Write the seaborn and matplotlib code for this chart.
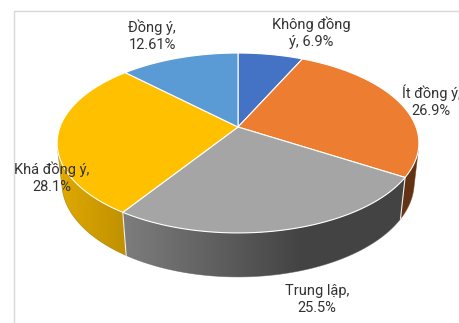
import numpy as np
import matplotlib
matplotlib.use("Agg")
import matplotlib.pyplot as plt
from matplotlib.path import Path
from matplotlib.patches import PathPatch
import seaborn as sns

sns.set_theme(style="white")
plt.rcParams['font.family'] = ['Roboto', 'DejaVu Sans']

# ---- data ----
categories = ['Không đồng ý', 'Ít đồng ý', 'Trung lập', 'Khá đồng ý', 'Đồng ý']
values = [6.9, 26.9, 25.5, 28.1, 12.61]
label_texts = ['Không đồng\ný, 6.9%', 'Ít đồng ý,\n26.9%', 'Trung lập,\n25.5%',
               'Khá đồng ý,\n28.1%', 'Đồng ý,\n12.61%']
slice_colors = ['#4472C4', '#ED7D31', '#A5A5A5', '#FFC000', '#5B9BD5']
label_pos = [(311, 33), (431, 101.5), (317, 299.5), (52, 178), (152, 36)]

# ---- 3D perspective geometry (pixel space) ----
PHI = np.radians(29.3)
S, C = np.sin(PHI), np.cos(PHI)
D = 4.91
K = 874.0
CX, CY = 238.0, 127.0
H = 0.258


def proj(theta_deg, z):
    t = np.radians(np.asarray(theta_deg, dtype=float))
    x, y = np.sin(t), np.cos(t)
    depth = y * C - z * S + D
    sx = x / depth
    sy = (y * S + z * C) / depth
    return CX + K * sx, CY - K * sy


fig = plt.figure(figsize=(4.59, 3.23), dpi=100)
ax = fig.add_axes([0, 0, 1, 1])
ax.set_xlim(0, 459)
ax.set_ylim(323, 0)
ax.axis('off')

# chart frame
ax.plot([14, 14, 470], [330, 10.5, 10.5], color='#d9d9d9', lw=1.0, solid_capstyle='butt')

total = sum(values)
bounds = np.concatenate([[0], np.cumsum(values) / total * 360.0])

# silhouette angles of visible side
th_sil = np.degrees(np.arccos(-1.0 / (D * C)))
vis_lo, vis_hi = th_sil, 360 - th_sil


def shade(px):
    return 0.41 + 0.47 * np.clip((300 - px) / 239.0, 0, 1)


# sides with horizontal gradient
for i, col in enumerate(slice_colors):
    a, b = max(bounds[i], vis_lo), min(bounds[i + 1], vis_hi)
    if b <= a:
        continue
    rgb = np.array(matplotlib.colors.to_rgb(col))
    ths = np.linspace(a, b, 200)
    tx, ty = proj(ths, 0)
    bx, by = proj(ths[::-1], -H)
    xs = np.concatenate([tx, bx])
    ys = np.concatenate([ty, by])
    verts = np.column_stack([xs, ys])
    path = Path(np.vstack([verts, verts[:1]]), closed=True)
    patch = PathPatch(path, facecolor='none', edgecolor='none')
    ax.add_patch(patch)
    x0, x1 = xs.min() - 1, xs.max() + 1
    gx = np.linspace(x0, x1, 300)
    img = np.clip(rgb[None, None, :] * shade(gx)[None, :, None], 0, 1)
    im = ax.imshow(img, extent=(x0, x1, ys.max() + 1, ys.min() - 1),
                   aspect='auto', interpolation='bilinear', origin='upper')
    im.set_clip_path(patch)
    # soft edge so the clipped border is smooth
    ax.add_patch(PathPatch(path, facecolor='none',
                           edgecolor=np.clip(rgb * 0.55, 0, 1), lw=0.5, alpha=0.6))

ax.set_xlim(0, 459)
ax.set_ylim(323, 0)

# side separators
for t in bounds:
    if vis_lo < t < vis_hi:
        xa, ya = proj(t, 0)
        xb, yb = proj(t, -H)
        ax.plot([xa, xb], [ya, yb], color='white', lw=0.8, alpha=0.9)

# top faces
for i, col in enumerate(slice_colors):
    ths = np.linspace(bounds[i], bounds[i + 1], 120)
    xs, ys = proj(ths, 0)
    xs = np.concatenate([[CX], xs])
    ys = np.concatenate([[CY], ys])
    ax.fill(xs, ys, color=col, ec='white', lw=0.8, joinstyle='round')

# labels
for txt, (lx, ly) in zip(label_texts, label_pos):
    ax.text(lx, ly, txt, ha='center', va='center', fontsize=10.5,
            color='#333333', linespacing=1.3)

fig.savefig('out.png', dpi=100)
